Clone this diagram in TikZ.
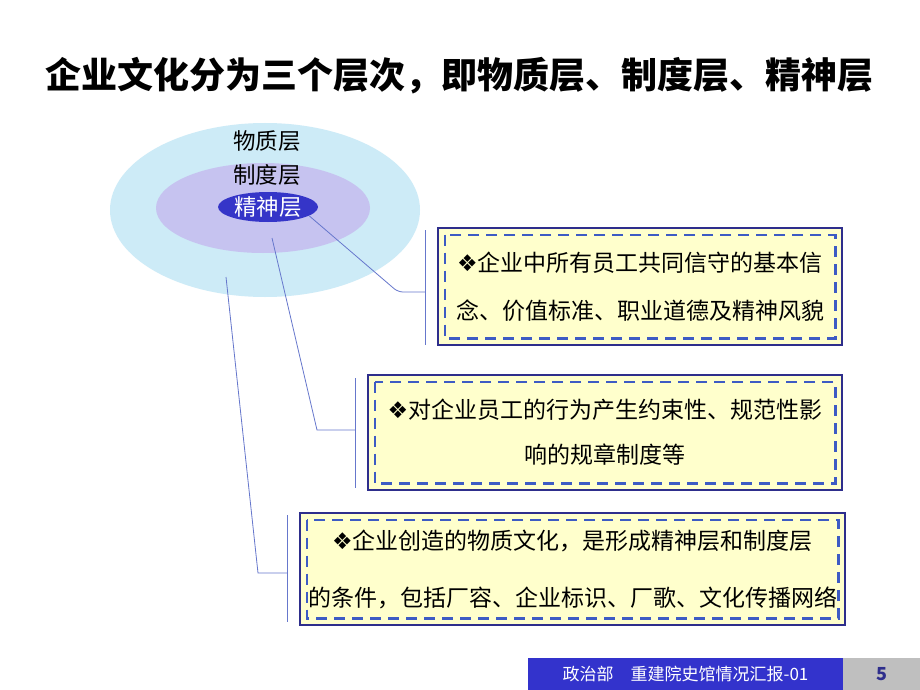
\documentclass[tikz,border=0pt]{standalone}
\usepackage{fontspec}
\usepackage{tikz}
\usetikzlibrary{positioning,shapes.geometric,calc}
\newfontfamily\cjk{Noto Sans CJK SC}
\newfontfamily\symf{DejaVu Sans}
\definecolor{outerlayer}{HTML}{CDEBF7}
\definecolor{midlayer}{HTML}{C6C3F0}
\definecolor{corelayer}{HTML}{3535C8}
\definecolor{boxfill}{HTML}{FFFFCC}
\definecolor{boxedge}{HTML}{2E2E8C}
\definecolor{dashedge}{HTML}{3D5BC4}
\definecolor{linkblue}{HTML}{6677CC}
\definecolor{footblue}{HTML}{3333CC}
\definecolor{footgray}{HTML}{BFBFBF}
\newcommand{\dia}{{\symf\char"2756}}

\begin{document}
\begin{tikzpicture}[x=1pt,y=-1pt,
    layer/.style={ellipse,inner sep=0pt},
    note/.style={rectangle,fill=boxfill,draw=boxedge,line width=2.6pt,align=center,inner sep=0pt},
    dashframe/.style={draw=dashedge,line width=2.4pt,dash pattern=on 11pt off 7pt},
    link/.style={draw=linkblue,line width=0.8pt}]
  \useasboundingbox[fill=white] (0,0) rectangle (920,690);
  % title
  \node[font=\cjk\bfseries\fontsize{36}{40}\selectfont] (title) at (459,76)
    {企业文化分为三个层次，即物质层、制度层、精神层};
  % the three layers
  \node[layer,fill=outerlayer,minimum width=310,minimum height=174] (outer) at (265,210) {};
  \node[layer,fill=midlayer,minimum width=214,minimum height=90] (mid) at (263,208) {};
  \node[layer,fill=corelayer,minimum width=100,minimum height=30,
    text=white,font=\cjk\fontsize{22.5}{24}\selectfont] (core) at (268,207) {精神层};
  \node[font=\cjk\fontsize{22.5}{24}\selectfont] (wuzhi) at (267,141) {物质层};
  \node[font=\cjk\fontsize{22.5}{24}\selectfont] (zhidu) at (267,175) {制度层};
  % notes
  \node[note,minimum width=404,minimum height=117,font=\cjk\fontsize{23}{48}\selectfont] (b1) at (640,286.5)
    {\dia 企业中所有员工共同信守的基本信\\念、价值标准、职业道德及精神风貌};
  \node[note,minimum width=474,minimum height=115,font=\cjk\fontsize{23}{45}\selectfont] (b2) at (605,432.5)
    {\dia 对企业员工的行为产生约束性、规范性影\\响的规章制度等};
  \node[note,minimum width=545,minimum height=112,font=\cjk\fontsize{23}{57}\selectfont] (b3) at (572.5,569)
    {\dia 企业创造的物质文化，是形成精神层和制度层\\的条件，包括厂容、企业标识、厂歌、文化传播网络};
  \foreach \b in {b1,b2,b3}
    \draw[dashframe] ($(\b.north west)+(8,8)$) rectangle ($(\b.south east)+(-8,-8)$);
  % connectors
  \coordinate (t1) at (425,230);
  \coordinate (u1) at (425,345);
  \coordinate (k1) at (398,292);
  \coordinate (v1) at (425,292);
  \draw[link] (t1) -- (u1);
  \draw[link,rounded corners=5pt] (core.-12) -- (k1) -- (v1);
  \coordinate (m0) at ($(mid.center)+(9,30)$);
  \coordinate (t2) at (355,378);
  \coordinate (u2) at (355,488);
  \coordinate (k2) at (317,430);
  \coordinate (v2) at (355,430);
  \draw[link] (t2) -- (u2);
  \draw[link] (m0) -- (k2) -- (v2);
  \coordinate (o0) at ($(outer.center)+(-39,67)$);
  \coordinate (t3) at (287,515);
  \coordinate (u3) at (287,622);
  \coordinate (k3) at (258,573);
  \coordinate (v3) at (287,573);
  \draw[link] (t3) -- (u3);
  \draw[link] (o0) -- (k3) -- (v3);
  % footer
  \node[fill=footblue,minimum width=315,minimum height=32,inner sep=0pt,text=white,
    font=\cjk\fontsize{17}{20}\selectfont] (foot) at (685.5,674) {政治部\quad 重建院史馆情况汇报-01};
  \node[fill=footgray,minimum width=77,minimum height=32,inner sep=0pt,text=boxedge,
    font=\cjk\bfseries\fontsize{18}{20}\selectfont,right=0pt of foot] (page) {5};
\end{tikzpicture}
\end{document}
